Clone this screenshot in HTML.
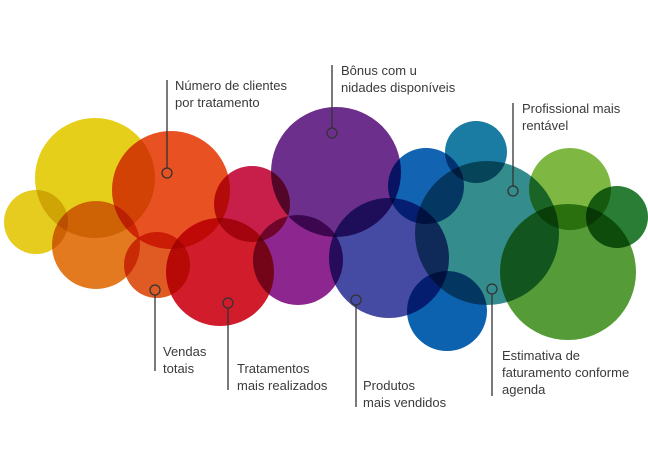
<!DOCTYPE html>
<html><head><meta charset="utf-8"><style>
html,body{margin:0;padding:0;background:#fff;}
svg{display:block;}
text{font-family:"Liberation Sans",sans-serif;font-size:13px;fill:#3a3a3a;}
.c{mix-blend-mode:multiply;}
</style></head><body>
<svg width="648" height="454" viewBox="0 0 648 454">
<g style="isolation:isolate">
<circle class="c" cx="95" cy="178" r="60" fill="#e6cf1a"/>
<circle class="c" cx="36" cy="222" r="32" fill="#e5cc1e"/>
<circle class="c" cx="96" cy="245" r="44" fill="#e47a1f"/>
<circle class="c" cx="171" cy="190" r="59" fill="#e85122"/>
<circle class="c" cx="157" cy="265" r="33" fill="#e05a24"/>
<circle class="c" cx="252" cy="204" r="38" fill="#c71f4a"/>
<circle class="c" cx="220" cy="272" r="54" fill="#d11c2c"/>
<circle class="c" cx="298" cy="260" r="45" fill="#8e2690"/>
<circle class="c" cx="336" cy="172" r="65" fill="#6c2f8c"/>
<circle class="c" cx="389" cy="258" r="60" fill="#454ba2"/>
<circle class="c" cx="426" cy="186" r="38" fill="#1264b3"/>
<circle class="c" cx="476" cy="152" r="31" fill="#1a7ba3"/>
<circle class="c" cx="487" cy="233" r="72" fill="#348c8c"/>
<circle class="c" cx="447" cy="311" r="40" fill="#0c62ae"/>
<circle class="c" cx="570" cy="189" r="41" fill="#7eb843"/>
<circle class="c" cx="568" cy="272" r="68" fill="#559b38"/>
<circle class="c" cx="617" cy="217" r="31" fill="#2a7d34"/>
</g>
<g stroke="#333" stroke-width="1.3" fill="none">
<line x1="167" y1="80" x2="167" y2="168"/><circle cx="167" cy="173" r="5"/>
<line x1="332" y1="65" x2="332" y2="128"/><circle cx="332" cy="133" r="5"/>
<line x1="513" y1="103" x2="513" y2="186"/><circle cx="513" cy="191" r="5"/>
<line x1="155" y1="295" x2="155" y2="371"/><circle cx="155" cy="290" r="5"/>
<line x1="228" y1="308" x2="228" y2="390"/><circle cx="228" cy="303" r="5"/>
<line x1="356" y1="305" x2="356" y2="407"/><circle cx="356" cy="300" r="5"/>
<line x1="492" y1="294" x2="492" y2="396"/><circle cx="492" cy="289" r="5"/>
</g>
<text x="175" y="90">Número de clientes</text>
<text x="175" y="107">por tratamento</text>
<text x="341" y="75">Bônus com u</text>
<text x="341" y="92">nidades disponíveis</text>
<text x="522" y="113">Profissional mais</text>
<text x="522" y="130">rentável</text>
<text x="163" y="356">Vendas</text>
<text x="163" y="373">totais</text>
<text x="237" y="373">Tratamentos</text>
<text x="237" y="390">mais realizados</text>
<text x="363" y="390">Produtos</text>
<text x="363" y="407">mais vendidos</text>
<text x="502" y="360">Estimativa de</text>
<text x="502" y="377">faturamento conforme</text>
<text x="502" y="394">agenda</text>
</svg>
</body></html>
